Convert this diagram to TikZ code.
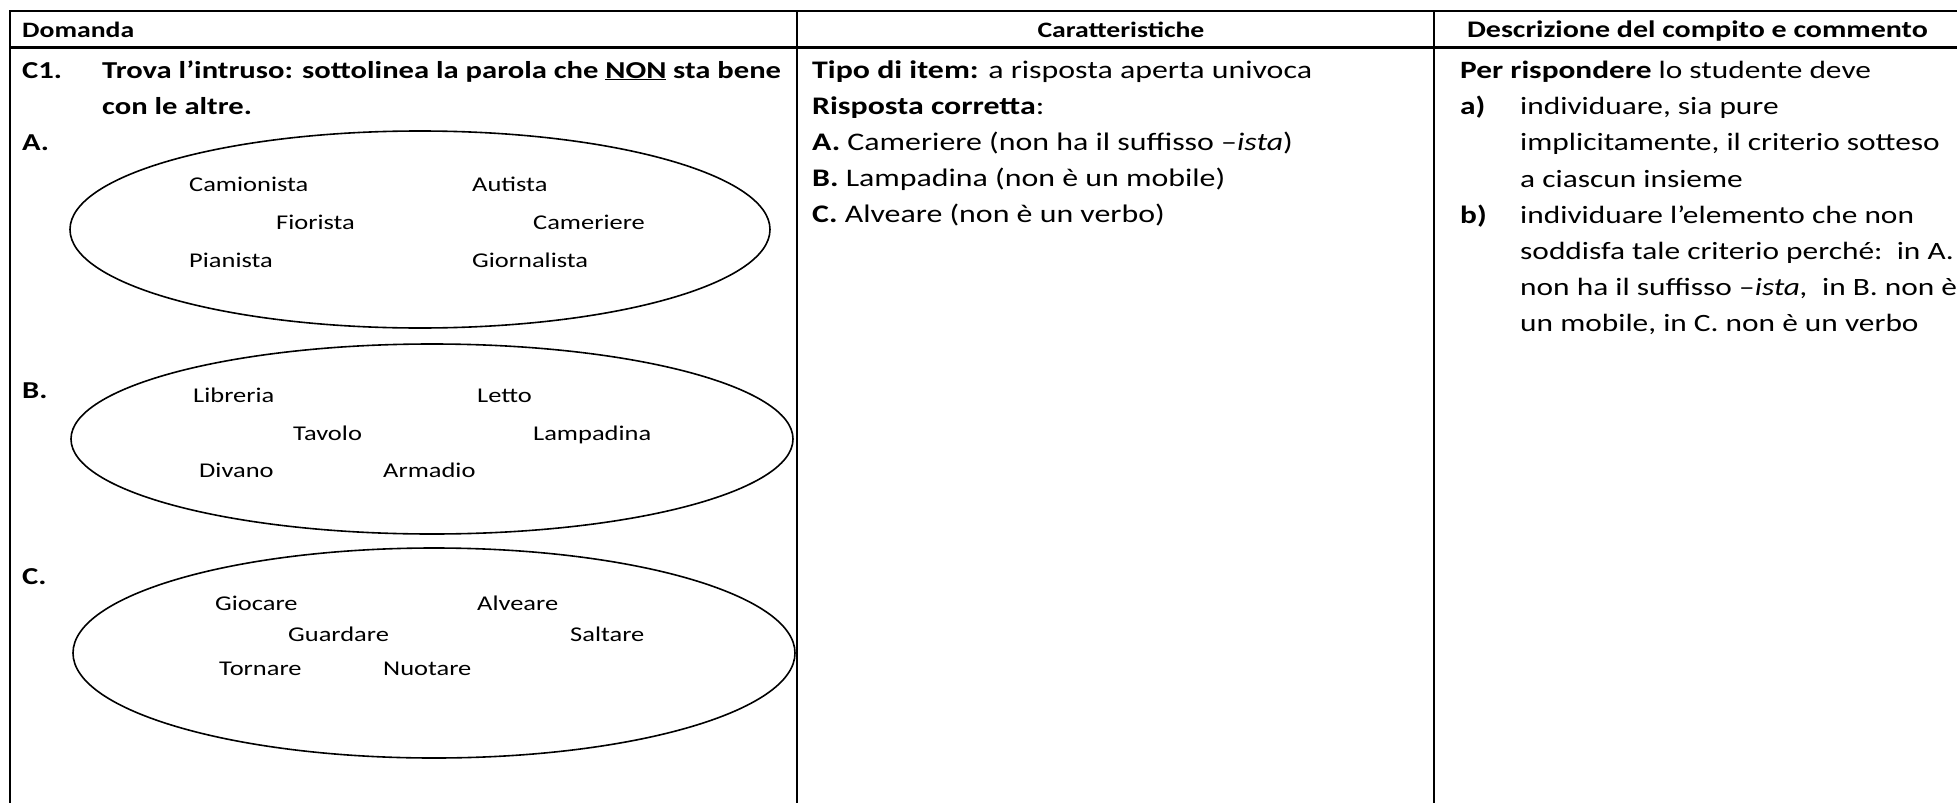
\documentclass[tikz,border=0pt]{standalone}
\usepackage{fontspec}
\setmainfont{Carlito}[FakeStretch=1.26]
\begin{document}
\begin{tikzpicture}[x=1pt,y=-1pt,
  tbl/.style={line width=2.6pt,black},
  oval/.style={line width=1.6pt,black},
  hdr/.style={inner sep=0pt,font=\fontsize{22}{26}\selectfont\bfseries},
  bodyt/.style={anchor=base west,inner sep=0pt,font=\fontsize{25.3}{36}\selectfont},
  bodyb/.style={bodyt,font=\fontsize{24.3}{36}\selectfont\bfseries},
  desc/.style={bodyt,font=\fontsize{24.9}{36}\selectfont},
  word/.style={anchor=base west,inner sep=0pt,font=\fontsize{21}{26}\selectfont}]
\useasboundingbox (0,0) rectangle (1957,803);
% table rules
\draw[tbl] (10,803) -- (10,11) -- (1957,11);
\draw[tbl] (10,47.5) -- (1957,47.5);
\draw[tbl] (797,11) -- (797,803);
\draw[tbl] (1434,11) -- (1434,803);
% headers
\node[hdr,anchor=base west] (hD) at (22,37) {Domanda};
\node[hdr,anchor=base] (hC) at (1121,37) {Caratteristiche};
\node[hdr,anchor=base,font=\fontsize{23.8}{26}\selectfont\bfseries] (hE) at (1697.5,37) {Descrizione del compito e commento};
% column 1
\node[bodyb] (c1) at (22,78) {C1.};
\node[bodyb] (c1a) at (102,78) {Trova l’intruso: sottolinea la parola che \underline{NON} sta bene};
\node[bodyb] (c1b) at (102,114) {con le altre.};
\node[bodyb] (la) at (22,150) {A.};
\node[bodyb] (lb) at (22,398) {B.};
\node[bodyb] (lc) at (22,584) {C.};
% ellipses
\draw[oval] (420,229.5) ellipse [x radius=350, y radius=98.5];
\draw[oval] (432,439) ellipse [x radius=361, y radius=95];
\draw[oval] (434,653) ellipse [x radius=361, y radius=105];
% words A
\node[word] (wa1) at (189,191.5) {Camionista};
\node[word] (wa2) at (472,191.5) {Autista};
\node[word] (wa3) at (276,229.5) {Fiorista};
\node[word] (wa4) at (533,229.5) {Cameriere};
\node[word] (wa5) at (189,267.5) {Pianista};
\node[word] (wa6) at (472,267.5) {Giornalista};
% words B
\node[word] (wb1) at (193,402.5) {Libreria};
\node[word] (wb2) at (477,402.5) {Letto};
\node[word] (wb3) at (293,440.5) {Tavolo};
\node[word] (wb4) at (533,440.5) {Lampadina};
\node[word] (wb5) at (199,477.5) {Divano};
\node[word] (wb6) at (383,477.5) {Armadio};
% words C
\node[word] (wc1) at (215,610.5) {Giocare};
\node[word] (wc2) at (477,610.5) {Alveare};
\node[word] (wc3) at (288,641.5) {Guardare};
\node[word] (wc4) at (570,641.5) {Saltare};
\node[word] (wc5) at (219,675.5) {Tornare};
\node[word] (wc6) at (383,675.5) {Nuotare};
% column 2
\node[bodyt] (k1) at (812,78) {\textbf{Tipo di item:} a risposta aperta univoca};
\node[bodyt] (k2) at (812,114) {\textbf{Risposta corretta}:};
\node[bodyt] (k3) at (812,150) {\textbf{A.} Cameriere (non ha il suffisso –\textit{ista})};
\node[bodyt] (k4) at (812,186) {\textbf{B.} Lampadina (non è un mobile)};
\node[bodyt] (k5) at (812,222) {\textbf{C.} Alveare (non è un verbo)};
% column 3
\node[desc] (d0) at (1460,78) {\textbf{Per rispondere} lo studente deve};
\node[desc,font=\fontsize{24.9}{36}\selectfont\bfseries] (da) at (1460,114) {a)};
\node[desc] (d1) at (1520,114) {individuare, sia pure};
\node[desc] (d2) at (1520,150.5) {implicitamente, il criterio sotteso};
\node[desc] (d3) at (1520,187) {a ciascun insieme};
\node[desc,font=\fontsize{24.9}{36}\selectfont\bfseries] (db) at (1460,223) {b)};
\node[desc] (d4) at (1520,223) {individuare l’elemento che non};
\node[desc] (d5) at (1520,259) {soddisfa tale criterio perché:\ \ in A.};
\node[desc] (d6) at (1520,295) {non ha il suffisso –\textit{ista,}\ \ in B. non è};
\node[desc] (d7) at (1520,331) {un mobile, in C. non è un verbo};
\end{tikzpicture}
\end{document}
